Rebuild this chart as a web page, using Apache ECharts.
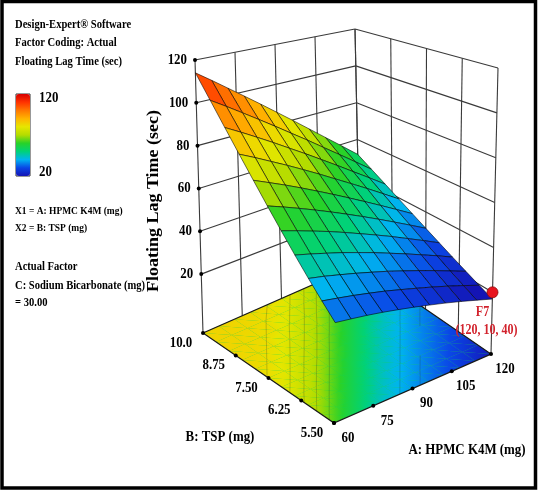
<!DOCTYPE html>
<html>
<head>
<meta charset="utf-8">
<script src="https://cdn.jsdelivr.net/npm/echarts@6/dist/echarts.min.js"></script>
<style>
    html, body { margin: 0; padding: 0; background: #fff; }
    #main { width: 538px; height: 491px; }
</style>
</head>
<body>
<div id="main"></div>
<script>
// 因子 A: HPMC K4M (mg)
var aValues = [60, 66, 72, 78, 84, 90, 96, 102, 108, 114, 120];
// 因子 B: TSP (mg)，从后往前
var bValues = [10, 9.5, 9, 8.5, 8, 7.5, 7, 6.5, 6, 5.5, 5];
// 曲面 Floating Lag Time (sec)，每一行对应一个 B 值，每一列对应一个 A 值
var lagTime = [
    [114.0, 108.9, 103.5, 97.9, 92.1, 86.0, 79.7, 73.1, 66.3, 59.3, 52.0],
    [103.3, 98.8, 94.0, 89.0, 83.8, 78.3, 72.7, 66.7, 60.6, 54.2, 47.6],
    [93.1, 89.2, 85.0, 80.6, 75.9, 71.1, 66.0, 60.7, 55.1, 49.4, 43.4],
    [83.5, 80.1, 76.4, 72.6, 68.5, 64.2, 59.6, 54.9, 50.0, 44.8, 39.4],
    [74.5, 71.5, 68.4, 65.0, 61.4, 57.6, 53.6, 49.4, 45.0, 40.4, 35.6],
    [66.0, 63.5, 60.8, 57.9, 54.8, 51.5, 48.0, 44.3, 40.4, 36.3, 32.0],
    [58.1, 56.0, 53.7, 51.3, 48.6, 45.7, 42.7, 39.5, 36.0, 32.4, 28.6],
    [50.7, 49.0, 47.1, 45.1, 42.8, 40.4, 37.7, 34.9, 31.9, 28.8, 25.4],
    [43.9, 42.6, 41.0, 39.3, 37.4, 35.4, 33.1, 30.7, 28.1, 25.3, 22.4],
    [37.7, 36.6, 35.4, 34.0, 32.5, 30.7, 28.8, 26.8, 24.6, 22.2, 19.6],
    [32.0, 31.2, 30.3, 29.2, 27.9, 26.5, 24.9, 23.2, 21.3, 19.2, 17.0]
];
// 底面等高线图的数值（按底面颜色读出），行列同上
var floorContour = [
    [84.0, 83.7, 83.4, 83.1, 82.1, 80.5, 75.9, 71.4, 65.3, 58.3, 52.0],
    [83.7, 83.4, 83.1, 82.2, 81.1, 76.6, 72.2, 66.4, 59.5, 53.0, 46.8],
    [83.5, 83.2, 82.4, 81.3, 77.3, 73.1, 67.5, 60.7, 54.1, 47.8, 42.8],
    [83.2, 82.6, 81.5, 78.1, 73.8, 68.7, 61.9, 55.1, 48.8, 43.3, 40.1],
    [82.8, 81.7, 78.9, 74.5, 69.6, 63.0, 56.2, 49.9, 43.8, 40.7, 37.5],
    [81.9, 79.7, 75.2, 70.5, 64.2, 57.2, 50.9, 44.6, 41.2, 38.0, 34.9],
    [80.5, 75.9, 71.3, 65.3, 58.3, 52.0, 45.7, 41.7, 38.6, 35.4, 32.3],
    [76.5, 72.2, 66.4, 59.5, 53.0, 46.7, 42.2, 39.1, 36.0, 32.8, 29.7],
    [73.1, 67.5, 60.6, 54.0, 47.8, 42.7, 39.6, 36.5, 33.3, 30.2, 26.9],
    [68.6, 61.8, 55.1, 48.8, 43.3, 40.1, 37.0, 33.8, 30.7, 27.5, 24.0],
    [63.0, 56.1, 49.8, 43.8, 40.6, 37.5, 34.4, 31.2, 28.1, 24.6, 21.0]
];
var floorContourLevels = [82, 78, 74, 70, 65, 40, 36];

// 坐标轴刻度
var aTicks = [60, 75, 90, 105, 120];
var aTickLabels = ["60", "75", "90", "105", "120"];
var bTicks = [10, 8.75, 7.5, 6.25, 5];
var bTickLabels = ["10.0", "8.75", "7.50", "6.25", "5.50"];
var zTicks = [20, 40, 60, 80, 100, 120];
var zTickLabels = ["20", "40", "60", "80", "100", "120"];

// 设计点 F7 (A, B, 时间)
var pointF7 = [120, 5, 20];
var pointF7Labels = ["F7", "(120, 10, 40)"];

// 颜色条 20 ~ 120，每 10 秒一个颜色
var colorMin = 20;
var colorMax = 120;
var surfaceColors = ["#1414b4", "#0a46e6", "#00b4f0", "#00d278", "#28d228", "#b4dc00",
    "#e6e600", "#ffb400", "#ff7800", "#ff3200", "#d70000"];

var zMin = -7.5;
var zMax = 120;

// 盒子八个角在画面上的位置：(A60,B10) (A120,B10) (A120,B5) (A60,B5)
var floorBox = [[203, 333], [360, 264], [491, 354], [334, 423]];
var topBox = [[195, 60], [355, 29], [498, 68], [338, 99]];

var serif = '"Liberation Serif", "Times New Roman", serif';
var squeeze = 0.86;

function mixPt(p, q, t) {
    return [p[0] + (q[0] - p[0]) * t, p[1] + (q[1] - p[1]) * t];
}

function bilinear(box, u, v) {
    var back = mixPt(box[0], box[1], u);
    var front = mixPt(box[3], box[2], u);
    return mixPt(back, front, v);
}

// 三维 (A, B, z) 投影到画面坐标
function project(a, b, z) {
    var u = (a - aValues[0]) / (aValues[aValues.length - 1] - aValues[0]);
    var v = (bValues[0] - b) / (bValues[0] - bValues[bValues.length - 1]);
    var w = (z - zMin) / (zMax - zMin);
    return mixPt(bilinear(floorBox, u, v), bilinear(topBox, u, v), w);
}

// 和颜色条一样的映射
function rampColor(val) {
    var t = (val - colorMin) / (colorMax - colorMin);
    t = Math.max(0, Math.min(1, t));
    return echarts.color.lerp(t, surfaceColors);
}

function cellCorners(i, j) {
    return [[i, j], [i + 1, j], [i + 1, j + 1], [i, j + 1]];
}

// 三角形内按数值线性渐变着色
function triangleFill(pts, zs) {
    var x0 = pts[0][0], y0 = pts[0][1];
    var d = (pts[1][0] - x0) * (pts[2][1] - y0) - (pts[2][0] - x0) * (pts[1][1] - y0);
    var ga = ((zs[1] - zs[0]) * (pts[2][1] - y0) - (zs[2] - zs[0]) * (pts[1][1] - y0)) / d;
    var gb = ((pts[1][0] - x0) * (zs[2] - zs[0]) - (pts[2][0] - x0) * (zs[1] - zs[0])) / d;
    var lo = 0, hi = 0;
    for (var k = 1; k < 3; k++) {
        if (zs[k] < zs[lo]) lo = k;
        if (zs[k] > zs[hi]) hi = k;
    }
    var g2 = ga * ga + gb * gb;
    var span = zs[hi] - zs[lo];
    if (g2 < 1e-9 || span < 1e-6) {
        return rampColor(zs[0]);
    }
    var sx = pts[lo][0], sy = pts[lo][1];
    var ex = sx + ga * span / g2, ey = sy + gb * span / g2;
    var stops = [];
    for (var s = 0; s <= 4; s++) {
        stops.push({ offset: s / 4, color: rampColor(zs[lo] + span * s / 4) });
    }
    return new echarts.graphic.LinearGradient(sx, sy, ex, ey, stops, true);
}

// 底面等高线（marching squares）
function cellContours(i, j) {
    var c = cellCorners(i, j);
    var segs = [];
    floorContourLevels.forEach(function (lv) {
        var hits = [];
        for (var k = 0; k < 4; k++) {
            var p = c[k], q = c[(k + 1) % 4];
            var zp = floorContour[p[1]][p[0]], zq = floorContour[q[1]][q[0]];
            if ((zp - lv) * (zq - lv) < 0) {
                var t = (lv - zp) / (zq - zp);
                hits.push([
                    aValues[p[0]] + t * (aValues[q[0]] - aValues[p[0]]),
                    bValues[p[1]] + t * (bValues[q[1]] - bValues[p[1]])
                ]);
            }
        }
        for (var h = 0; h + 1 < hits.length; h += 2) {
            segs.push([hits[h], hits[h + 1]]);
        }
    });
    return segs;
}

function line(api, p, q, style) {
    var a = api.coord(p), b = api.coord(q);
    return { type: "line", shape: { x1: a[0], y1: a[1], x2: b[0], y2: b[1] }, style: style };
}

function text(x, y, str, font, align, color) {
    return {
        type: "text", x: x, y: y, scaleX: squeeze,
        style: { text: str, font: font, fill: color || "#000", align: align || "left", verticalAlign: "middle" }
    };
}

function floorOutline(api) {
    var a0 = aValues[0], a1 = aValues[aValues.length - 1];
    var b0 = bValues[0], b1 = bValues[bValues.length - 1];
    return [[a0, b0], [a1, b0], [a1, b1], [a0, b1]].map(function (p) {
        return api.coord(project(p[0], p[1], zMin));
    });
}

// 后墙网格
function renderWalls(params, api) {
    var children = [];
    var st = { stroke: "#3a3a3a", lineWidth: 1.1 };
    var a0 = aValues[0], a1 = aValues[aValues.length - 1];
    var b0 = bValues[0], b1 = bValues[bValues.length - 1];
    aTicks.forEach(function (a) {
        children.push(line(api, project(a, b0, zMin), project(a, b0, zMax), st));
    });
    bTicks.forEach(function (b) {
        children.push(line(api, project(a1, b, zMin), project(a1, b, zMax), st));
    });
    zTicks.forEach(function (z) {
        children.push(line(api, project(a0, b0, z), project(a1, b0, z), st));
        children.push(line(api, project(a1, b0, z), project(a1, b1, z), st));
    });
    // 底面打底色，避免三角形之间露白
    children.push({ type: "polygon", shape: { points: floorOutline(api) }, style: { fill: rampColor(55) } });
    return { type: "group", children: children };
}

// 底面等高线图
function renderFloor(params, api) {
    var i = api.value(0), j = api.value(1);
    var c = cellCorners(i, j);
    var zs = c.map(function (p) { return floorContour[p[1]][p[0]]; });
    var pts = c.map(function (p) { return api.coord(project(aValues[p[0]], bValues[p[1]], zMin)); });
    var children = [];
    [[0, 1, 2], [0, 2, 3]].forEach(function (tri) {
        var tp = tri.map(function (k) { return pts[k]; });
        var tz = tri.map(function (k) { return zs[k]; });
        children.push({ type: "polygon", shape: { points: tp }, style: { fill: triangleFill(tp, tz) } });
    });
    cellContours(i, j).forEach(function (s) {
        children.push(line(api, project(s[0][0], s[0][1], zMin), project(s[1][0], s[1][1], zMin),
            { stroke: "rgba(40,40,40,0.4)", lineWidth: 0.6 }));
    });
    return { type: "group", children: children };
}

function renderFloorEdge(params, api) {
    return { type: "polygon", shape: { points: floorOutline(api) }, style: { fill: null, stroke: "#1a1a1a", lineWidth: 1.3 } };
}

// 响应曲面
function renderSurface(params, api) {
    var i = api.value(0), j = api.value(1);
    var pts = cellCorners(i, j).map(function (p) {
        return api.coord(project(aValues[p[0]], bValues[p[1]], lagTime[p[1]][p[0]]));
    });
    return {
        type: "polygon",
        shape: { points: pts },
        style: { fill: api.visual("color"), stroke: "rgba(0,0,0,0.8)", lineWidth: 0.7 }
    };
}

// 刻度点与刻度文字
function renderAxes(params, api) {
    var children = [];
    var a0 = aValues[0], b0 = bValues[0], b1 = bValues[bValues.length - 1];
    var numFont = "bold 15px " + serif;
    function dot(p) {
        var q = api.coord(p);
        return { type: "circle", shape: { cx: q[0], cy: q[1], r: 2 }, style: { fill: "#000" } };
    }
    zTicks.forEach(function (z, k) {
        var p = api.coord(project(a0, b0, z));
        children.push(dot(project(a0, b0, z)));
        children.push(text(p[0] - 8, p[1], zTickLabels[k], numFont, "right"));
    });
    bTicks.forEach(function (b, k) {
        var p = api.coord(project(a0, b, zMin));
        children.push(dot(project(a0, b, zMin)));
        children.push(text(p[0] - 22, p[1] + 10, bTickLabels[k], numFont, "center"));
    });
    aTicks.forEach(function (a, k) {
        var p = api.coord(project(a, b1, zMin));
        children.push(dot(project(a, b1, zMin)));
        children.push(text(p[0] + 14, p[1] + 15, aTickLabels[k], numFont, "center"));
    });
    return { type: "group", children: children };
}

function renderPoint(params, api) {
    var p = api.coord(project(pointF7[0], pointF7[1], pointF7[2]));
    var font = "bold 14px " + serif;
    return {
        type: "group",
        children: [
            { type: "circle", shape: { cx: p[0], cy: p[1], r: 5.5 }, style: { fill: "#e8141e", stroke: "#8c0a0a", lineWidth: 0.8 } },
            text(p[0] - 10, p[1] + 20, pointF7Labels[0], font, "center", "#d2232d"),
            text(p[0] - 6, p[1] + 38, pointF7Labels[1], font, "center", "#d2232d")
        ]
    };
}

var cellData = [];
for (var j = 0; j < bValues.length - 1; j++) {
    for (var i = 0; i < aValues.length - 1; i++) {
        var avg = (lagTime[j][i] + lagTime[j][i + 1] + lagTime[j + 1][i] + lagTime[j + 1][i + 1]) / 4;
        cellData.push([i, j, avg]);
    }
}
// 远处的格子先画
cellData.sort(function (p, q) { return (q[0] - q[1]) - (p[0] - p[1]); });

var panelFont = "bold 12.3px " + serif;
var smallFont = "bold 11px " + serif;

var option = {
    backgroundColor: "#fff",
    animation: false,
    grid: { left: 0, right: 0, top: 0, bottom: 0 },
    xAxis: { type: "value", min: 0, max: 538, show: false },
    yAxis: { type: "value", min: 0, max: 491, inverse: true, show: false },
    visualMap: {
        type: "continuous",
        seriesIndex: 3,
        dimension: 2,
        min: colorMin,
        max: colorMax,
        left: 16,
        top: 94,
        padding: 0,
        itemWidth: 14,
        itemHeight: 82,
        calculable: false,
        hoverLink: false,
        inRange: { color: surfaceColors }
    },
    graphic: [
        text(15, 24.5, "Design-Expert® Software", panelFont),
        text(15, 43, "Factor Coding: Actual", panelFont),
        text(15, 62, "Floating Lag Time (sec)", panelFont),
        { type: "rect", shape: { x: 16, y: 94, width: 14, height: 82 }, style: { fill: null, stroke: "#333", lineWidth: 1 } },
        text(39, 98, "120", "bold 15px " + serif),
        text(39, 172, "20", "bold 15px " + serif),
        text(15, 211, "X1 = A: HPMC K4M (mg)", smallFont),
        text(15, 228, "X2 = B: TSP (mg)", smallFont),
        text(15, 267, "Actual Factor", panelFont),
        text(15, 286, "C: Sodium Bicarbonate (mg)", panelFont),
        text(15, 303, "= 30.00", panelFont),
        {
            type: "text", x: 154, y: 201, rotation: Math.PI / 2, scaleY: 0.9,
            style: { text: "Floating Lag Time (sec)", font: "bold 18px " + serif, fill: "#000", align: "center", verticalAlign: "middle" }
        },
        text(220, 437, "B: TSP (mg)", "bold 15px " + serif, "center"),
        text(467, 450, "A: HPMC K4M (mg)", "bold 15px " + serif, "center"),
        { type: "rect", shape: { x: 2, y: 1.5, width: 533.5, height: 486.5 }, style: { fill: null, stroke: "#000", lineWidth: 3.5 } }
    ],
    series: [
        { type: "custom", silent: true, z: 1, renderItem: renderWalls, data: [[0, 0]] },
        { type: "custom", silent: true, z: 2, renderItem: renderFloor, data: cellData },
        { type: "custom", silent: true, z: 2, renderItem: renderFloorEdge, data: [[0, 0]] },
        { type: "custom", silent: true, z: 3, renderItem: renderSurface, data: cellData },
        { type: "custom", silent: true, z: 4, renderItem: renderAxes, data: [[0, 0]] },
        { type: "custom", silent: true, z: 5, renderItem: renderPoint, data: [[0, 0]] }
    ]
};

var myChart = echarts.init(document.getElementById("main"));
myChart.setOption(option);
</script>
</body>
</html>
